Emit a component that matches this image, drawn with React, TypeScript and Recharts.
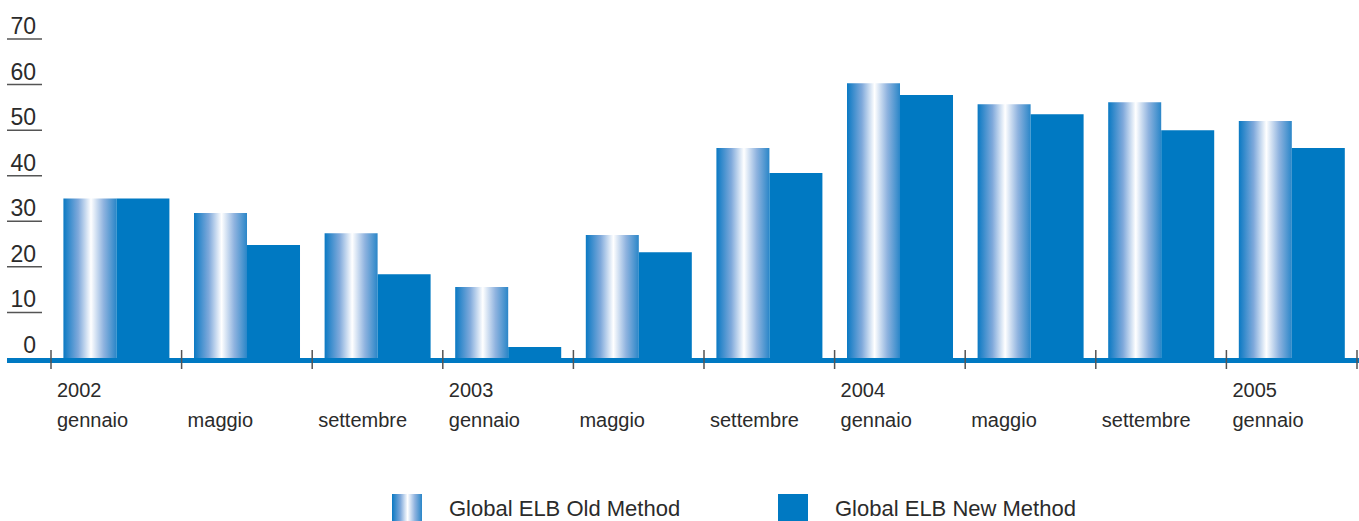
import { BarChart, Bar, XAxis, YAxis, Legend } from 'recharts';

// Valori (scala 0-70)
const months = ['gennaio', 'maggio', 'settembre', 'gennaio', 'maggio', 'settembre', 'gennaio', 'maggio', 'settembre', 'gennaio'];
const years = ['2002', '', '', '2003', '', '', '2004', '', '', '2005'];
const oldMethod = [35, 31.8, 27.4, 15.6, 27, 46.1, 60.3, 55.7, 56.1, 52];
const newMethod = [35, 24.8, 18.4, 2.4, 23.2, 40.6, 57.7, 53.5, 50, 46.1];
const yTicks = [0, 10, 20, 30, 40, 50, 60, 70];

const seriesNames = ['Global ELB Old Method', 'Global ELB New Method'];

const BLUE = '#0079c2';
const W = 1359;
const H = 521;
const MARGIN = { top: 39, right: 2, left: 7, bottom: 83 };
const Y_W = 44;
const PLOT_W = W - MARGIN.left - MARGIN.right - Y_W;
const BAND = PLOT_W / months.length;

const data = months.map((m, i) => ({
    idx: i,
    month: m,
    year: years[i],
    old: oldMethod[i],
    nuovo: newMethod[i],
}));

const FONT = '"Liberation Sans", Arial, sans-serif';

function YTick(props: any) {
    const { x, y, payload } = props;
    return (
        <g>
            {payload.value === 0 ? (
                // linea di base spessa
                <rect x={x - Y_W} y={y} width={W - MARGIN.left} height={5} fill={BLUE} />
            ) : (
                <line x1={x - Y_W} x2={x - 9} y1={y} y2={y} stroke="#555" strokeWidth={1.5} />
            )}
            <text x={x - 15} y={y - 5} textAnchor="end" fontSize={23} fontFamily={FONT} fill="#2b2b2b">
                {payload.value}
            </text>
        </g>
    );
}

function XTick(props: any) {
    const { x, y, payload } = props;
    const i = payload.value as number;
    const left = x - BAND / 2;
    return (
        <g>
            <line x1={left} x2={left} y1={y - 8} y2={y + 11} stroke="#555" strokeWidth={1.5} />
            {i === months.length - 1 && (
                <line x1={left + BAND} x2={left + BAND} y1={y - 8} y2={y + 11} stroke="#555" strokeWidth={1.5} />
            )}
            {years[i] && (
                <text x={left + 6} y={y + 39} fontSize={20} fontFamily={FONT} fill="#2b2b2b">
                    {years[i]}
                </text>
            )}
            <text x={left + 6} y={y + 69} fontSize={20} fontFamily={FONT} fill="#2b2b2b">
                {months[i]}
            </text>
        </g>
    );
}

const OLD_GRAD = 'linear-gradient(to right, #0a79c3 0%, #7fa9db 28%, #ffffff 52%, #8fb3df 76%, #2a86c8 100%)';

function LegendContent() {
    return (
        <div style={{ position: 'relative', height: 0 }}>
            {seriesNames.map((name, i) => (
                <div key={name} style={{ position: 'absolute', left: 392 + i * 386, top: 0, display: 'flex', alignItems: 'center' }}>
                    <div style={{ width: 30, height: 30, background: i === 0 ? OLD_GRAD : BLUE }} />
                    <span style={{ marginLeft: 27, fontSize: 22, fontFamily: FONT, color: '#2b2b2b', whiteSpace: 'nowrap' }}>
                        {name}
                    </span>
                </div>
            ))}
        </div>
    );
}

export default function App() {
    return (
        <div style={{ position: 'absolute', left: 0, top: 0, width: W, height: H, background: '#fff' }}>
            <BarChart width={W} height={H} data={data} margin={MARGIN} barGap={0} barCategoryGap="9.5%">
                <defs>
                    <linearGradient id="oldGrad" x1="0" y1="0" x2="1" y2="0">
                        <stop offset="0%" stopColor="#0a79c3" />
                        <stop offset="28%" stopColor="#7fa9db" />
                        <stop offset="52%" stopColor="#ffffff" />
                        <stop offset="76%" stopColor="#8fb3df" />
                        <stop offset="100%" stopColor="#2a86c8" />
                    </linearGradient>
                </defs>
                <YAxis
                    domain={[0, 70]}
                    ticks={yTicks}
                    width={Y_W}
                    axisLine={false}
                    tickLine={false}
                    tickSize={0}
                    tickMargin={0}
                    tick={<YTick />}
                    interval={0}
                />
                <XAxis
                    dataKey="idx"
                    height={80}
                    axisLine={false}
                    tickLine={false}
                    tickSize={0}
                    tickMargin={0}
                    tick={<XTick />}
                    interval={0}
                />
                <Bar dataKey="old" name={seriesNames[0]} fill="url(#oldGrad)" isAnimationActive={false} />
                <Bar dataKey="nuovo" name={seriesNames[1]} fill={BLUE} isAnimationActive={false} />
                <Legend content={<LegendContent />} wrapperStyle={{ top: 494, left: 0, width: W }} />
            </BarChart>
        </div>
    );
}
